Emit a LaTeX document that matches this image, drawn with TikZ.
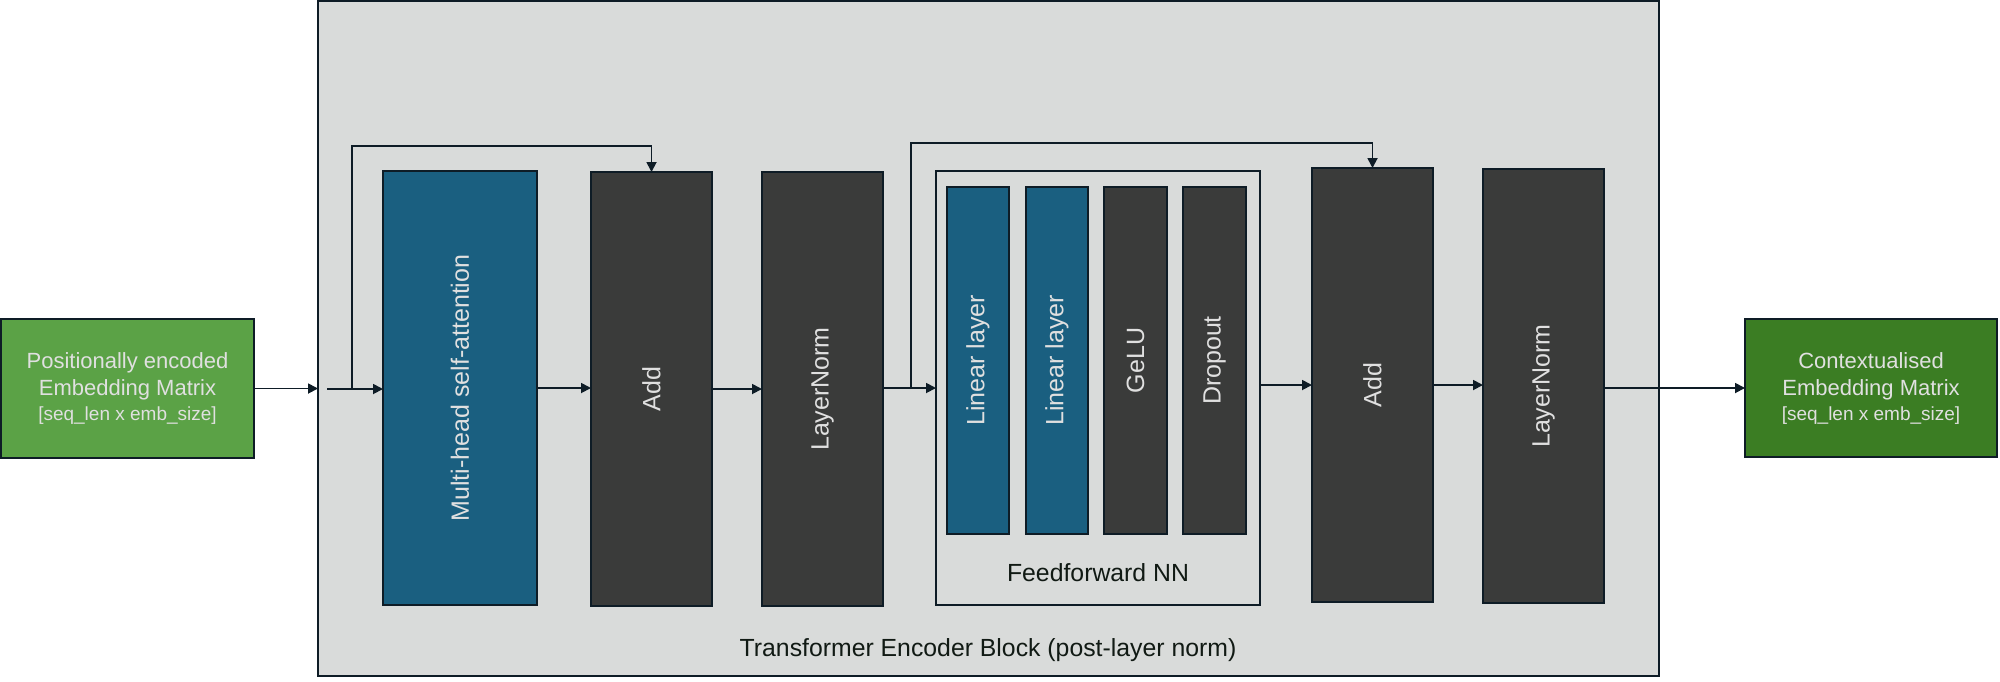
\documentclass[tikz,border=0pt]{standalone}
\usepackage{fontspec}
\setmainfont{Liberation Sans}
\usetikzlibrary{arrows.meta}
\definecolor{ingreen}{HTML}{5BA246}
\definecolor{outgreen}{HTML}{3B7D23}
\definecolor{blueb}{HTML}{1A5F80}
\definecolor{darkb}{HTML}{3A3B3A}
\definecolor{blockbg}{HTML}{D9DBDA}
\definecolor{edgec}{HTML}{0E1C26}
\definecolor{lighttxt}{HTML}{E0E0E0}
\definecolor{darktxt}{HTML}{111A14}
\tikzset{
  box/.style={draw=edgec, line width=0.75pt, inner sep=0pt, outer sep=0pt,
    text=lighttxt, font=\fontsize{12.5}{14}\selectfont, align=center},
  bluebox/.style={box, fill=blueb},
  darkbox/.style={box, fill=darkb},
  greenbox/.style={box, font=\fontsize{11}{13.5}\selectfont},
  arr/.style={draw=edgec, line width=0.9pt, -{Triangle[length=5pt,width=5pt]}},
  ln/.style={draw=edgec, line width=0.9pt}
}
\begin{document}
\begin{tikzpicture}[x=0.5pt,y=-0.5pt]
\useasboundingbox (0,0) rectangle (2000,681);
\fill[white] (0,0) rectangle (2000,681);
% outer block
\node[draw=edgec, line width=1.2pt, fill=blockbg, inner sep=0pt, outer sep=0pt,
      minimum width=670.5pt, minimum height=337.5pt] (blk) at (988.5,338.5) {};
% input / output
\node[greenbox, fill=ingreen, minimum width=126.5pt, minimum height=69.5pt] (inL) at (127.5,388.5)
  {Positionally encoded\\Embedding Matrix\\[-1pt]{\fontsize{9.5}{12}\selectfont [seq\_len x emb\_size]}};
\node[greenbox, fill=outgreen, minimum width=126pt, minimum height=69pt] (outR) at (1871,388)
  {Contextualised\\Embedding Matrix\\[-1pt]{\fontsize{9.5}{12}\selectfont [seq\_len x emb\_size]}};
% main column boxes
\node[bluebox, minimum width=77pt, minimum height=217pt] (mhsa) at (460,388) {\rotatebox{90}{Multi-head self-attention}};
\node[darkbox, minimum width=60.5pt, minimum height=217pt] (add1) at (651.5,389) {\rotatebox{90}{Add}};
\node[darkbox, minimum width=60.5pt, minimum height=217pt] (ln1) at (822.5,389) {\rotatebox{90}{LayerNorm}};
% feedforward
\node[draw=edgec, line width=0.9pt, fill=blockbg, inner sep=0pt, outer sep=0pt,
      minimum width=162pt, minimum height=217pt] (ffn) at (1098,388) {};
\node[bluebox, minimum width=31pt, minimum height=173.5pt] (lin1) at (978,360.5) {\rotatebox{90}{Linear layer}};
\node[bluebox, minimum width=31pt, minimum height=173.5pt] (lin2) at (1057,360.5) {\rotatebox{90}{Linear layer}};
\node[darkbox, minimum width=31.5pt, minimum height=173.5pt] (gelu) at (1135.5,360.5) {\rotatebox{90}{GeLU}};
\node[darkbox, minimum width=31.5pt, minimum height=173.5pt] (drop) at (1214.5,360.5) {\rotatebox{90}{Dropout}};
\node[text=darktxt, font=\fontsize{12.4}{14}\selectfont, inner sep=0pt] (ffnlab) at (1098,573) {Feedforward NN};
\node[darkbox, minimum width=60.5pt, minimum height=217pt] (add2) at (1372.5,385) {\rotatebox{90}{Add}};
\node[darkbox, minimum width=60.5pt, minimum height=217pt] (ln2) at (1543.5,386) {\rotatebox{90}{LayerNorm}};
\node[text=darktxt, font=\fontsize{12.4}{14}\selectfont, inner sep=0pt] (title) at (988,650) {Transformer Encoder Block (post-layer norm)};
% coordinates
\coordinate (s1) at (327,389);
\coordinate (j1) at (352,389);
\coordinate (t1) at (352,146);
\coordinate (j2) at (911,389);
\coordinate (t2) at (911,143);
% connectors
\draw[arr] (inL.east) -- (blk.west |- inL.east);
\draw[arr] (s1) -- (mhsa.west |- s1);
\draw[arr] (j1) -- (t1) -| (add1.north);
\draw[arr] (mhsa.east) -- (add1.west |- mhsa.east);
\draw[arr] (add1.east) -- (ln1.west);
\draw[arr] (ln1.east |- ffn.west) -- (ffn.west);
\draw[arr] (j2) -- (t2) -| (add2.north);
\draw[arr] (ffn.east |- add2.west) -- (add2.west);
\draw[arr] (add2.east) -- (ln2.west |- add2.east);
\draw[arr] (ln2.east |- outR.west) -- (outR.west);
\end{tikzpicture}
\end{document}
